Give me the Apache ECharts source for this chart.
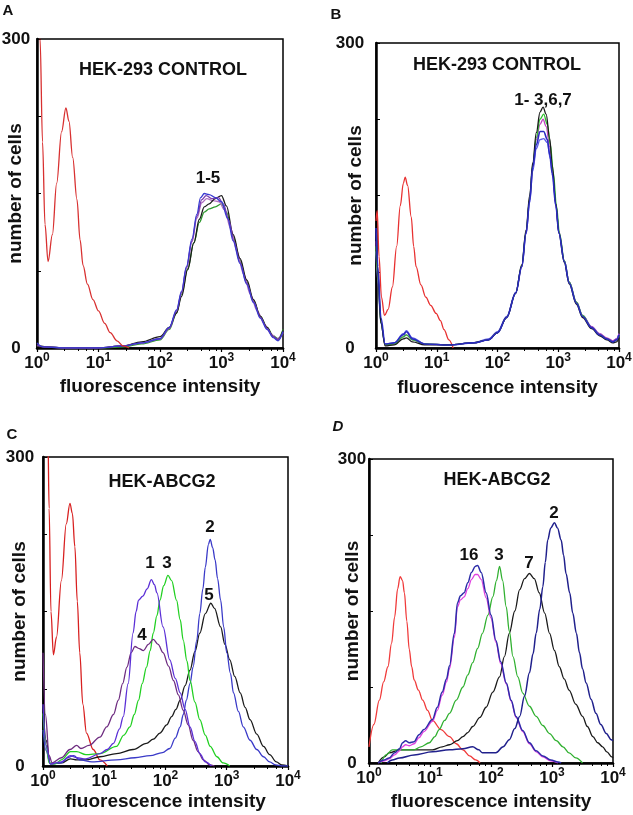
<!DOCTYPE html>
<html>
<head>
<meta charset="utf-8">
<script src="https://cdn.jsdelivr.net/npm/echarts@6/dist/echarts.min.js"></script>
<style>
  html, body { margin: 0; padding: 0; background: #fff; }
  #chart { width: 633px; height: 815px; }
</style>
</head>
<body>
<div id="chart"></div>
<script>
// x values are read as decade positions (log10 of intensity), y = number of cells
const xExponents = [0, 1, 2, 3, 4];
const yTicks = [0, 300];

// panel A: HEK-293 control
const aRed = [[0, 420], [0.05, 300], [0.09, 200], [0.13, 120], [0.18, 84], [0.25, 110], [0.32, 160], [0.4, 210], [0.47, 233], [0.52, 220], [0.58, 185], [0.65, 144], [0.7, 105], [0.75, 80], [0.82, 62], [0.91, 47], [1.0, 36], [1.1, 24], [1.19, 15], [1.3, 7], [1.4, 2], [1.5, 0]];
const aBlue = [[0, 5], [0.1, 1], [0.5, 0], [1.0, 0], [1.4, 2], [1.7, 5], [2.0, 9], [2.15, 20], [2.27, 37], [2.35, 55], [2.43, 79], [2.52, 106], [2.6, 130], [2.66, 146], [2.72, 150], [2.8, 149], [2.9, 146], [3.0, 142], [3.1, 126], [3.19, 104], [3.3, 82], [3.41, 62], [3.52, 44], [3.63, 29], [3.74, 18], [3.84, 10], [3.92, 7], [4, 16]];
const aPurple = [[0, 3], [0.1, 1], [0.5, 0], [1.0, 0], [1.4, 2], [1.7, 5], [2.0, 9], [2.15, 19], [2.27, 36], [2.35, 54], [2.43, 78], [2.52, 104], [2.6, 128], [2.68, 144], [2.75, 148], [2.84, 145], [2.95, 146], [3.03, 140], [3.12, 124], [3.2, 104], [3.3, 83], [3.41, 63], [3.52, 45], [3.63, 30], [3.74, 19], [3.84, 11], [3.92, 8], [4, 15]];
const aBlack = [[0, 2], [0.5, 0], [1.0, 0], [1.4, 2], [1.7, 6], [2.0, 11], [2.15, 20], [2.27, 34], [2.35, 50], [2.45, 76], [2.55, 102], [2.64, 125], [2.72, 137], [2.8, 140], [2.9, 145], [3.0, 148], [3.08, 138], [3.19, 110], [3.3, 87], [3.41, 66], [3.52, 47], [3.63, 31], [3.74, 20], [3.84, 11], [3.92, 8], [4, 17]];
const aGreen = [[0, 2], [0.5, 0], [1.0, 0], [1.4, 1], [1.7, 4], [2.0, 8], [2.15, 18], [2.27, 34], [2.35, 52], [2.45, 77], [2.55, 102], [2.64, 122], [2.72, 132], [2.8, 135], [2.9, 137], [3.0, 140], [3.08, 132], [3.19, 108], [3.3, 85], [3.41, 64], [3.52, 46], [3.63, 31], [3.74, 20], [3.84, 12], [3.92, 9], [4, 18]];
const aPink = [[0, 2], [0.5, 0], [1.0, 0], [1.4, 2], [1.7, 5], [2.0, 9], [2.15, 19], [2.27, 35], [2.35, 53], [2.43, 77], [2.52, 103], [2.6, 126], [2.68, 141], [2.76, 145], [2.86, 143], [2.96, 142], [3.05, 134], [3.15, 116], [3.25, 94], [3.36, 72], [3.47, 52], [3.58, 36], [3.7, 23], [3.8, 14], [3.9, 9], [4, 15]];

// panel B: HEK-293 control
const bRed = [[0, 125], [0.02, 135], [0.05, 90], [0.09, 50], [0.14, 32], [0.2, 38], [0.27, 60], [0.34, 100], [0.4, 140], [0.45, 162], [0.48, 168], [0.52, 160], [0.58, 129], [0.62, 100], [0.66, 80], [0.74, 62], [0.82, 50], [0.9, 42], [0.99, 34], [1.06, 27], [1.12, 18], [1.2, 8], [1.27, 0]];
const bBlack = [[0, 112], [0.03, 75], [0.08, 25], [0.15, 2], [0.3, 3], [0.45, 9], [0.5, 10], [0.6, 6], [0.8, 3], [1.2, 3], [1.6, 5], [1.85, 8], [2.0, 15], [2.15, 30], [2.3, 54], [2.4, 82], [2.47, 116], [2.53, 150], [2.58, 182], [2.64, 212], [2.7, 232], [2.75, 237], [2.8, 230], [2.86, 206], [2.9, 180], [2.96, 142], [3.01, 113], [3.1, 84], [3.18, 63], [3.3, 43], [3.4, 30], [3.55, 19], [3.68, 12], [3.8, 8], [3.9, 5], [3.96, 6], [4, 10]];
const bGreen = [[0, 100], [0.03, 70], [0.08, 25], [0.15, 3], [0.3, 4], [0.45, 11], [0.5, 13], [0.6, 8], [0.8, 4], [1.2, 3], [1.6, 5], [1.85, 8], [2.0, 15], [2.15, 30], [2.3, 54], [2.4, 81], [2.47, 114], [2.53, 147], [2.58, 180], [2.64, 207], [2.7, 225], [2.76, 230], [2.82, 220], [2.87, 200], [2.92, 172], [2.97, 140], [3.02, 113], [3.1, 86], [3.18, 65], [3.3, 45], [3.4, 32], [3.55, 20], [3.68, 13], [3.8, 9], [3.9, 6], [3.96, 8], [4, 12]];
const bMagenta = [[0, 105], [0.03, 72], [0.08, 26], [0.15, 3], [0.3, 4], [0.45, 11], [0.5, 13], [0.6, 8], [0.8, 4], [1.2, 3], [1.6, 5], [1.85, 8], [2.0, 15], [2.15, 30], [2.3, 54], [2.4, 80], [2.47, 113], [2.53, 146], [2.58, 178], [2.64, 205], [2.7, 220], [2.75, 225], [2.8, 218], [2.86, 198], [2.91, 174], [2.96, 142], [3.01, 115], [3.1, 86], [3.18, 65], [3.3, 45], [3.4, 32], [3.55, 21], [3.68, 14], [3.8, 10], [3.9, 7], [3.96, 9], [4, 14]];
const bBlue = [[0, 118], [0.03, 80], [0.08, 30], [0.15, 4], [0.3, 5], [0.45, 13], [0.5, 16], [0.6, 9], [0.8, 4], [1.2, 3], [1.6, 5], [1.85, 8], [2.0, 15], [2.15, 30], [2.3, 54], [2.4, 80], [2.47, 113], [2.53, 145], [2.58, 178], [2.64, 200], [2.7, 213], [2.76, 213], [2.82, 205], [2.86, 190], [2.9, 172], [2.96, 140], [3.01, 113], [3.1, 85], [3.18, 64], [3.3, 44], [3.4, 31], [3.55, 20], [3.68, 13], [3.8, 9], [3.9, 6], [3.96, 8], [4, 13]];
const bBlue2 = [[0, 95], [0.03, 66], [0.08, 24], [0.15, 4], [0.3, 5], [0.45, 14], [0.5, 17], [0.6, 10], [0.8, 4], [1.2, 3], [1.6, 5], [1.85, 9], [2.0, 16], [2.15, 31], [2.3, 55], [2.4, 80], [2.47, 112], [2.53, 143], [2.58, 174], [2.64, 196], [2.7, 205], [2.76, 206], [2.82, 202], [2.87, 186], [2.91, 168], [2.96, 140], [3.01, 114], [3.1, 86], [3.18, 65], [3.3, 45], [3.4, 32], [3.55, 21], [3.68, 14], [3.8, 9], [3.9, 7], [3.96, 9], [4, 14]];

// panel C: HEK-ABCG2
const cRed = [[0, 500], [0.08, 320], [0.1, 250], [0.13, 150], [0.17, 108], [0.22, 125], [0.3, 180], [0.38, 235], [0.44, 255], [0.48, 245], [0.52, 213], [0.56, 160], [0.6, 110], [0.65, 60], [0.71, 32], [0.82, 16], [0.93, 6], [1.05, 0]];
const c1 = [[0, 60], [0.05, 20], [0.12, 2], [0.3, 4], [0.45, 10], [0.55, 8], [0.7, 7], [0.93, 12], [1.05, 16], [1.15, 22], [1.25, 36], [1.31, 48], [1.39, 80], [1.47, 129], [1.52, 150], [1.56, 161], [1.63, 165], [1.7, 172], [1.77, 181], [1.82, 176], [1.86, 168], [1.96, 135], [2.07, 103], [2.16, 85], [2.24, 71], [2.32, 55], [2.4, 38], [2.48, 24], [2.56, 12], [2.65, 4], [2.75, 0]];
const c2 = [[0, 35], [0.05, 15], [0.12, 2], [0.3, 3], [0.4, 8], [0.5, 10], [0.6, 6], [0.8, 4], [1.2, 6], [1.5, 8], [1.75, 10], [1.95, 13], [2.07, 17], [2.16, 27], [2.24, 38], [2.29, 50], [2.34, 64], [2.4, 80], [2.45, 96], [2.51, 122], [2.56, 148], [2.61, 172], [2.65, 193], [2.7, 215], [2.73, 220], [2.77, 212], [2.81, 200], [2.85, 182], [2.9, 161], [2.95, 135], [3.0, 110], [3.06, 90], [3.11, 71], [3.19, 53], [3.27, 38], [3.38, 25], [3.49, 16], [3.6, 9], [3.7, 4], [3.8, 1], [3.9, 0], [4, 0]];
const c3 = [[0, 51], [0.05, 20], [0.1, 3], [0.2, 2], [0.3, 6], [0.45, 14], [0.55, 14], [0.7, 11], [0.93, 12], [1.2, 19], [1.32, 30], [1.42, 38], [1.49, 50], [1.56, 64], [1.62, 80], [1.69, 96], [1.75, 112], [1.8, 129], [1.86, 146], [1.91, 161], [1.97, 175], [2.04, 185], [2.1, 180], [2.18, 161], [2.24, 142], [2.29, 122], [2.35, 102], [2.4, 83], [2.48, 62], [2.56, 45], [2.65, 30], [2.73, 19], [2.84, 9], [2.94, 3], [3.05, 0]];
const c4 = [[0, 110], [0.04, 50], [0.1, 10], [0.15, 3], [0.3, 8], [0.44, 16], [0.55, 20], [0.62, 17], [0.75, 20], [0.93, 28], [1.04, 38], [1.15, 50], [1.23, 64], [1.3, 80], [1.37, 96], [1.44, 110], [1.5, 116], [1.57, 114], [1.64, 112], [1.72, 118], [1.8, 123], [1.88, 118], [1.96, 110], [2.05, 97], [2.13, 83], [2.21, 69], [2.29, 54], [2.37, 40], [2.45, 25], [2.53, 14], [2.62, 6], [2.72, 1], [2.8, 0]];
const c5 = [[0, 60], [0.05, 25], [0.12, 2], [0.3, 3], [0.45, 7], [0.55, 6], [0.7, 6], [0.93, 9], [1.2, 12], [1.47, 16], [1.69, 22], [1.8, 26], [1.91, 32], [2.02, 40], [2.1, 48], [2.17, 55], [2.24, 64], [2.32, 78], [2.4, 93], [2.48, 111], [2.56, 129], [2.65, 148], [2.74, 158], [2.8, 153], [2.9, 135], [2.97, 118], [3.05, 103], [3.13, 87], [3.22, 71], [3.3, 57], [3.38, 45], [3.49, 31], [3.6, 19], [3.7, 11], [3.81, 4], [3.9, 1], [4, 0]];

// panel D: HEK-ABCG2
const dRed = [[0, 16], [0.08, 38], [0.17, 62], [0.24, 80], [0.31, 95], [0.37, 118], [0.42, 144], [0.47, 172], [0.51, 184], [0.55, 180], [0.58, 168], [0.62, 140], [0.66, 112], [0.7, 95], [0.74, 82], [0.81, 72], [0.88, 62], [0.96, 52], [1.04, 42], [1.18, 33], [1.32, 26], [1.43, 19], [1.54, 13], [1.65, 7], [1.75, 3], [1.82, 0]];
const d1 = [[0.15, 0], [0.25, 3], [0.33, 5], [0.42, 10], [0.5, 14], [0.55, 20], [0.6, 22], [0.66, 20], [0.74, 21], [0.82, 28], [0.9, 33], [1.04, 43], [1.12, 55], [1.2, 70], [1.27, 83], [1.32, 96], [1.4, 128], [1.45, 158], [1.5, 165], [1.56, 168], [1.62, 178], [1.68, 188], [1.74, 194], [1.78, 195], [1.84, 188], [1.92, 168], [2.0, 146], [2.08, 121], [2.16, 100], [2.25, 79], [2.33, 62], [2.41, 46], [2.52, 32], [2.63, 20], [2.74, 12], [2.85, 7], [2.98, 3], [3.1, 1], [3.15, 0]];
const d6 = [[0.15, 0], [0.25, 2], [0.33, 4], [0.42, 8], [0.5, 12], [0.55, 16], [0.6, 18], [0.66, 17], [0.74, 19], [0.82, 25], [0.9, 31], [1.04, 41], [1.12, 52], [1.2, 67], [1.27, 80], [1.32, 93], [1.4, 124], [1.45, 154], [1.5, 161], [1.56, 164], [1.62, 172], [1.68, 181], [1.74, 186], [1.78, 186], [1.84, 181], [1.92, 163], [2.0, 143], [2.08, 119], [2.16, 98], [2.25, 78], [2.33, 61], [2.41, 45], [2.52, 31], [2.63, 19], [2.74, 11], [2.85, 6], [2.98, 2], [3.1, 0]];
const d3 = [[0.2, 0], [0.28, 8], [0.38, 13], [0.5, 13], [0.6, 13], [0.74, 13], [0.85, 16], [0.99, 20], [1.08, 26], [1.15, 33], [1.24, 42], [1.32, 49], [1.43, 62], [1.54, 75], [1.62, 87], [1.7, 99], [1.78, 113], [1.86, 128], [1.95, 146], [2.03, 164], [2.09, 180], [2.14, 194], [2.19, 180], [2.25, 154], [2.3, 130], [2.36, 105], [2.44, 85], [2.52, 69], [2.63, 56], [2.74, 46], [2.85, 37], [2.96, 29], [3.07, 22], [3.18, 16], [3.28, 10], [3.39, 5], [3.5, 0]];
const d7 = [[0.15, 0], [0.25, 6], [0.33, 10], [0.5, 13], [0.74, 13], [1.04, 13], [1.2, 16], [1.32, 18], [1.45, 22], [1.54, 26], [1.62, 30], [1.7, 36], [1.82, 45], [1.92, 55], [2.03, 70], [2.14, 85], [2.22, 105], [2.3, 128], [2.39, 150], [2.47, 171], [2.55, 182], [2.63, 187], [2.71, 182], [2.79, 168], [2.88, 148], [2.96, 128], [3.04, 111], [3.12, 95], [3.2, 83], [3.28, 72], [3.39, 58], [3.5, 46], [3.58, 36], [3.67, 26], [3.75, 20], [3.83, 16], [3.9, 11], [3.98, 6], [4, 5]];
const d2 = [[0.3, 0], [0.38, 3], [0.5, 5], [0.74, 8], [1.04, 11], [1.32, 13], [1.54, 14], [1.7, 16], [1.8, 13], [1.86, 10], [2.0, 10], [2.08, 10], [2.2, 16], [2.3, 23], [2.39, 34], [2.47, 46], [2.55, 66], [2.63, 89], [2.69, 108], [2.74, 128], [2.8, 152], [2.85, 174], [2.89, 198], [2.93, 220], [2.98, 232], [3.04, 237], [3.09, 232], [3.15, 220], [3.19, 205], [3.23, 187], [3.29, 168], [3.34, 148], [3.4, 128], [3.45, 109], [3.5, 93], [3.56, 79], [3.64, 63], [3.72, 49], [3.8, 38], [3.89, 29], [3.97, 23], [4, 22]];

const FONT = "'Liberation Sans', Arial, sans-serif";

// plot boxes (px) of the four panels
const boxes = [
  { left: 37, top: 39, width: 246, height: 309, yMargin: 21, yGap: 12, xGap: 29 },
  { left: 376, top: 43, width: 243, height: 305, yMargin: 26, yGap: 11, xGap: 30 },
  { left: 43, top: 457, width: 245, height: 309, yMargin: 23, yGap: 14, xGap: 26 },
  { left: 369, top: 459, width: 244, height: 304, yMargin: 17, yGap: 7, xGap: 29 },
];

const toXY = (pts) => pts.map((p) => [Math.pow(10, p[0]), p[1]]);

const line = (idx, pts, color, width) => ({
  type: "line",
  xAxisIndex: idx,
  yAxisIndex: idx,
  data: toXY(pts),
  showSymbol: false,
  smooth: 0.35,
  smoothMonotone: "x",
  clip: true,
  silent: true,
  lineStyle: { color: color, width: width || 1.3 },
});

const txt = (x, y, text, size, italic) => ({
  type: "text",
  x: x,
  y: y,
  silent: true,
  style: {
    text: text,
    fill: "#111",
    font: (italic ? "italic " : "") + "bold " + size + "px " + FONT,
    align: "center",
    verticalAlign: "middle",
  },
});

const option = {
  backgroundColor: "#fff",
  animation: false,
  grid: boxes.map((b) => ({
    left: b.left,
    top: b.top,
    width: b.width,
    height: b.height,
    show: true,
    borderColor: "#000",
    borderWidth: 1.5,
    outerBoundsMode: "none",
  })),
  xAxis: boxes.map((b, i) => ({
    type: "log",
    gridIndex: i,
    logBase: 10,
    min: Math.pow(10, xExponents[0]),
    max: Math.pow(10, xExponents[xExponents.length - 1]),
    name: "fluorescence intensity",
    nameLocation: "middle",
    nameGap: b.xGap,
    nameMoveOverlap: false,
    nameTextStyle: { fontFamily: FONT, fontWeight: "bold", fontSize: 19, color: "#111" },
    axisLine: { lineStyle: { color: "#000", width: 2.5 } },
    axisTick: { show: true, inside: false, length: 4, lineStyle: { color: "#000", width: 1.2 } },
    minorTick: { show: true, splitNumber: 5, length: 3, lineStyle: { color: "#000", width: 1 } },
    splitLine: { show: false },
    axisLabel: {
      margin: 4,
      formatter: (v) => "{b|10}{s|" + Math.round(Math.log10(v)) + "}",
      rich: {
        b: { fontFamily: FONT, fontWeight: "bold", fontSize: 17, color: "#111", lineHeight: 22 },
        s: { fontFamily: FONT, fontWeight: "bold", fontSize: 12, color: "#111", verticalAlign: "top" },
      },
    },
  })),
  yAxis: boxes.map((b, i) => ({
    type: "value",
    gridIndex: i,
    min: yTicks[0],
    max: yTicks[1],
    interval: 75,
    name: "number of cells",
    nameLocation: "middle",
    nameRotate: 90,
    nameGap: b.yGap,
    nameMoveOverlap: false,
    nameTextStyle: { fontFamily: FONT, fontWeight: "bold", fontSize: 19, color: "#111" },
    axisLine: { show: true, lineStyle: { color: "#000", width: 2.5 } },
    axisTick: { show: true, inside: true, length: 4, lineStyle: { color: "#000", width: 1 } },
    splitLine: { show: false },
    axisLabel: {
      margin: b.yMargin,
      align: "center",
      fontFamily: FONT,
      fontWeight: "bold",
      fontSize: 17,
      color: "#111",
      formatter: (v) => (yTicks.indexOf(v) >= 0 ? String(v) : ""),
    },
  })),
  series: [
    line(0, aGreen, "#2f9a2f"),
    line(0, aPink, "#b070c0"),
    line(0, aBlack, "#1a1a1a"),
    line(0, aPurple, "#7a3cb0"),
    line(0, aBlue, "#3a3ad0"),
    line(0, aRed, "#d83030"),

    line(1, bRed, "#e83030"),
    line(1, bBlue2, "#5a5ae8"),
    line(1, bMagenta, "#c040c0"),
    line(1, bGreen, "#30c030"),
    line(1, bBlack, "#1a1a1a"),
    line(1, bBlue, "#2a2ac0", 1.6),

    line(2, cRed, "#d82020"),
    line(2, c5, "#1a1a1a"),
    line(2, c2, "#3a3ac8"),
    line(2, c3, "#22d022"),
    line(2, c4, "#6e2c80"),
    line(2, c1, "#5b2fd6"),

    line(3, dRed, "#f03a3a"),
    line(3, d7, "#1a1a1a"),
    line(3, d3, "#30b030"),
    line(3, d6, "#e040e0"),
    line(3, d1, "#2c2ca8", 1.5),
    line(3, d2, "#20208c", 1.5),
  ],
  graphic: [
    txt(8, 11, "A", 15),
    txt(336, 15, "B", 15),
    txt(12, 435, "C", 15),
    txt(338, 427, "D", 15, true),
    txt(163, 70, "HEK-293 CONTROL", 18),
    txt(497, 65, "HEK-293 CONTROL", 18),
    txt(162, 482, "HEK-ABCG2", 18),
    txt(497, 480, "HEK-ABCG2", 18),
    txt(208, 178, "1-5", 17),
    txt(543, 100, "1- 3,6,7", 17),
    txt(150, 563, "1", 17),
    txt(167, 563, "3", 17),
    txt(210, 527, "2", 17),
    txt(209, 595, "5", 17),
    txt(142, 635, "4", 17),
    txt(469, 555, "16", 17),
    txt(499, 555, "3", 17),
    txt(529, 563, "7", 17),
    txt(554, 513, "2", 17),
  ],
};

const chart = echarts.init(document.getElementById("chart"), null, { renderer: "canvas" });
chart.setOption(option);
</script>
</body>
</html>
